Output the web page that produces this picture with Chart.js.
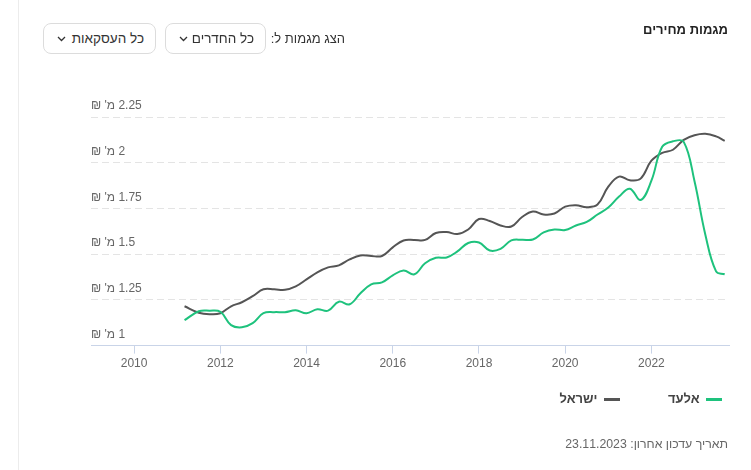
<!DOCTYPE html>
<html lang="he">
<head>
<meta charset="utf-8">
<script src="https://cdn.jsdelivr.net/npm/chart.js@4.4.0/dist/chart.umd.min.js"></script>
<style>
  html, body { margin: 0; padding: 0; background: #fff; }
  body { width: 751px; height: 470px; position: relative; overflow: hidden; font-family: Arial, "Liberation Sans", sans-serif; }
  #wrap { position: absolute; left: 0; top: 0; width: 751px; height: 470px; }
  .vline { position: absolute; left: 18px; top: 0; width: 1px; height: 470px; background: #ececec; }
  .title { position: absolute; right: 23px; top: 22px; font-size: 13px; font-weight: bold; color: #222; direction: rtl; white-space: nowrap; }
  .lbl { position: absolute; right: 406px; top: 31px; font-size: 13px; color: #333; direction: rtl; white-space: nowrap; }
  .btn { position: absolute; top: 23px; height: 31px; border: 1px solid #dcdcdc; border-radius: 8px; box-sizing: border-box;
         display: flex; align-items: center; direction: rtl; font-size: 13.5px; color: #333; padding: 0 11px 0 0; background: #fff; white-space: nowrap; }
  .btn span { display: block; }
  .btn svg { display: block; position: absolute; }
  .foot { position: absolute; right: 23px; top: 437px; font-size: 12.3px; color: #666; direction: rtl; white-space: nowrap; }
</style>
</head>
<body>
<div id="wrap"><canvas id="c" dir="rtl"></canvas></div>
<div class="vline"></div>
<div class="title">מגמות מחירים</div>
<div class="lbl">הצג מגמות ל:</div>
<div class="btn" style="left:165px;width:101px;"><span>כל החדרים</span><svg style="left:13px;top:12px" width="9" height="6" viewBox="0 0 9 6"><polyline points="1,1 4.5,4.5 8,1" fill="none" stroke="#333" stroke-width="1.3"/></svg></div>
<div class="btn" style="left:43px;width:113px;"><span>כל העסקאות</span><svg style="left:13px;top:12px" width="9" height="6" viewBox="0 0 9 6"><polyline points="1,1 4.5,4.5 8,1" fill="none" stroke="#333" stroke-width="1.3"/></svg></div>
<div class="foot">תאריך עדכון אחרון: 23.11.2023</div>
<script>
// ---- data ----
const years = [2011.17, 2011.5, 2011.75, 2012, 2012.25, 2012.5, 2012.75, 2013, 2013.25, 2013.5, 2013.75,
  2014, 2014.25, 2014.5, 2014.75, 2015, 2015.25, 2015.5, 2015.75, 2016, 2016.25, 2016.5, 2016.75,
  2017, 2017.25, 2017.5, 2017.75, 2018, 2018.25, 2018.5, 2018.75, 2019, 2019.25, 2019.5, 2019.75,
  2020, 2020.25, 2020.5, 2020.75, 2021, 2021.25, 2021.5, 2021.75, 2022, 2022.25, 2022.5, 2022.75,
  2023, 2023.25, 2023.5, 2023.7];
const eladValues = [1.139, 1.188, 1.191, 1.185, 1.112, 1.100, 1.123, 1.177, 1.183, 1.183, 1.193,
  1.177, 1.199, 1.191, 1.240, 1.226, 1.286, 1.335, 1.346, 1.384, 1.411, 1.390, 1.450,
  1.480, 1.482, 1.515, 1.561, 1.564, 1.520, 1.529, 1.575, 1.579, 1.580, 1.619, 1.635,
  1.632, 1.657, 1.676, 1.717, 1.755, 1.815, 1.858, 1.796, 1.902, 2.087, 2.117, 2.114,
  1.899, 1.608, 1.406, 1.390];
const israelValues = [1.215, 1.180, 1.172, 1.177, 1.215, 1.237, 1.270, 1.308, 1.308, 1.305, 1.324,
  1.362, 1.401, 1.428, 1.439, 1.471, 1.493, 1.490, 1.490, 1.537, 1.575, 1.578, 1.578,
  1.616, 1.621, 1.610, 1.635, 1.692, 1.681, 1.657, 1.651, 1.703, 1.733, 1.717, 1.722,
  1.760, 1.768, 1.757, 1.771, 1.869, 1.924, 1.904, 1.913, 2.011, 2.054, 2.071, 2.125,
  2.150, 2.158, 2.144, 2.120];
const seriesNames = ['אלעד', 'ישראל'];
const yTicks = [1, 1.25, 1.5, 1.75, 2, 2.25];
const yUnit = "מ' ₪";
const xTickYears = [2010, 2012, 2014, 2016, 2018, 2020, 2022];

const toPoints = (vals) => vals.map((v, i) => ({ x: years[i], y: v }));

const legendShift = {
  id: 'legendShift',
  afterLayout(chart) {
    const lg = chart.legend;
    if (!lg) return;
    const dx = 41, dy = -29;
    lg.left += dx; lg.right += dx;
    lg.top += dy; lg.bottom += dy;
  }
};

new Chart(document.getElementById('c'), {
  type: 'line',
  data: {
    datasets: [
      { label: seriesNames[0], data: toPoints(eladValues), borderColor: '#1ec27d', backgroundColor: '#1ec27d',
        borderWidth: 2, pointRadius: 0, tension: 0.4, fill: false },
      { label: seriesNames[1], data: toPoints(israelValues), borderColor: '#555555', backgroundColor: '#555555',
        borderWidth: 2, pointRadius: 0, tension: 0.4, fill: false }
    ]
  },
  options: {
    responsive: true,
    maintainAspectRatio: false,
    animation: false,
    layout: { padding: { top: 117, left: 91, right: 22, bottom: 25 } },
    plugins: {
      tooltip: { enabled: false },
      legend: {
        position: 'bottom', align: 'start', rtl: true,
        labels: {
          usePointStyle: true, pointStyle: 'line', pointStyleWidth: 16, padding: 48,
          color: '#444', font: { size: 13, weight: 'bold', family: 'Arial' },
          generateLabels: (chart) => Chart.defaults.plugins.legend.labels.generateLabels(chart).map(l => ({ ...l, lineWidth: 3 }))
        }
      }
    },
    scales: {
      x: {
        type: 'linear', min: 2009, max: 2023.8,
        afterBuildTicks: (scale) => { scale.ticks = xTickYears.map(v => ({ value: v })); },
        ticks: { color: '#666', font: { size: 12, family: 'Arial' }, padding: 3, maxRotation: 0,
                 callback: (v) => String(v) },
        grid: { drawOnChartArea: false, drawTicks: true, tickLength: 8, color: '#c9d4e8' },
        border: { display: true, color: '#c9d4e8', width: 1 }
      },
      y: {
        min: 1, max: 2.25,
        afterBuildTicks: (scale) => { scale.ticks = yTicks.map(v => ({ value: v })); },
        ticks: { mirror: true, padding: 0, labelOffset: -11, color: '#666', font: { size: 12, family: 'Arial' },
                 callback: (v) => v + ' ' + yUnit },
        grid: { drawTicks: false, color: '#e4e4e4' },
        border: { display: false, dash: [7, 4] }
      }
    }
  },
  plugins: [legendShift]
});
</script>
</body>
</html>
